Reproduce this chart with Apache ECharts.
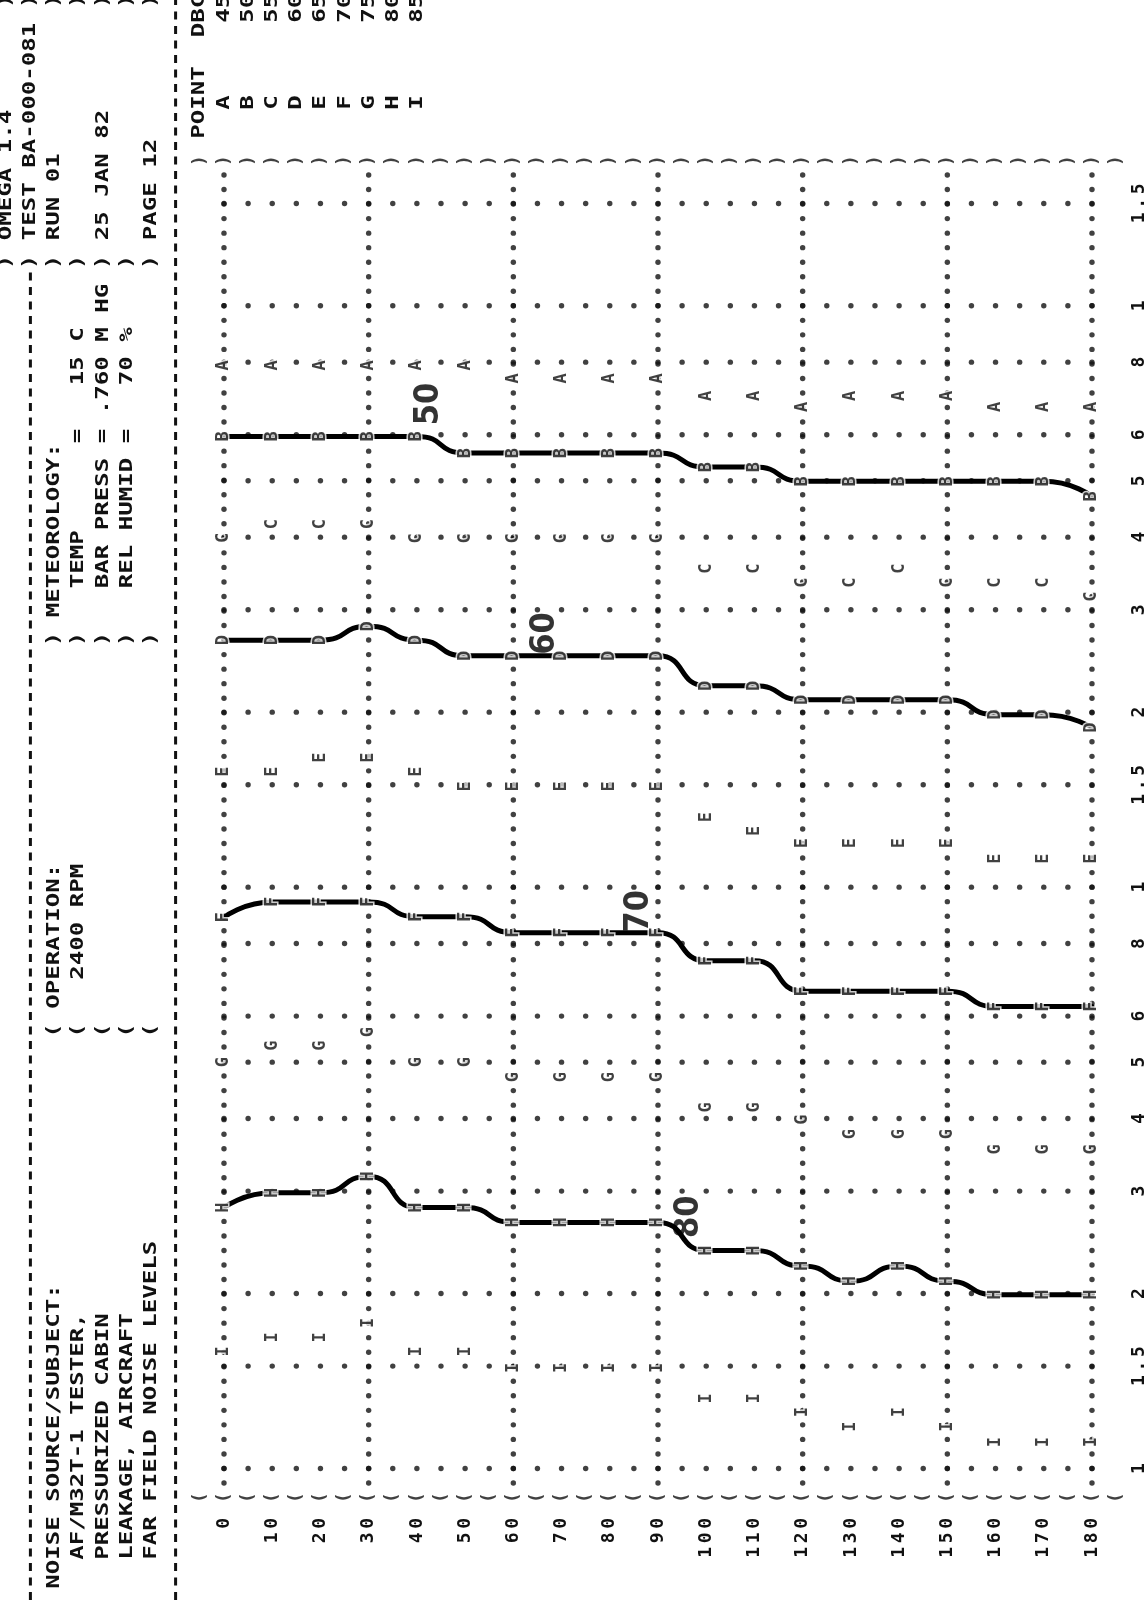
<!DOCTYPE html>
<html><head><meta charset="utf-8">
<script src="https://cdn.jsdelivr.net/npm/echarts@6/dist/echarts.min.js"></script>
<style>html,body{margin:0;padding:0;background:#fff}#c{width:1148px;height:1606px}</style>
</head><body><div id="c"></div>
<script>
// ---------------- data ----------------
const angles = [0,10,20,30,40,50,60,70,80,90,100,110,120,130,140,150,160,170,180];
const angleTickLabels = ['0','10','20','30','40','50','60','70','80','90','100','110','120','130','140','150','160','170','180'];
// distance (log axis) tick values and the printed labels
const distTicks = [1,1.5,2,3,4,5,6,8,10,15,20,30,40,50,60,80,100,150];
const distTickLabels = ['1','1.5','2','3','4','5','6','8','1','1.5','2','3','4','5','6','8','1','1.5'];
const vGridAngles = [0,30,60,90,120,150,180];
// points A..I : distance at which each level is reached, per angle
const pointNames = ['A','B','C','D','E','F','G','H','I'];
const pointDbc   = ['45','50','55','60','65','70','75','80','85'];
const ptA = [79,79,79,79,79,79,75,75,75,75,70,70,67,70,70,70,67,67,67];
const ptB = [59.6,59.6,59.6,59.6,59.6,55.8,55.8,55.8,55.8,55.8,52.8,52.8,49.9,49.9,49.9,49.9,49.9,49.9,47.0];
const ptC = [39.9,42.1,42.1,42.1,39.8,39.8,39.8,39.8,39.8,39.8,35.3,35.3,33.4,33.4,35.3,33.4,33.4,33.4,31.6];
const ptD = [26.6,26.6,26.6,28.1,26.6,25.0,25.0,25.0,25.0,25.0,22.2,22.2,21.0,21.0,21.0,21.0,19.8,19.8,18.8];
const ptE = [15.8,15.8,16.7,16.7,15.8,14.9,14.9,14.9,14.9,14.9,13.2,12.5,11.9,11.9,11.9,11.9,11.2,11.2,11.2];
const ptF = [8.87,9.43,9.43,9.43,8.89,8.89,8.35,8.35,8.35,8.35,7.47,7.47,6.62,6.62,6.62,6.62,6.23,6.23,6.23];
const ptG = [5.0,5.34,5.34,5.63,5.0,5.0,4.71,4.71,4.71,4.71,4.18,4.18,3.98,3.76,3.76,3.76,3.54,3.54,3.54];
const ptH = [2.81,2.98,2.98,3.18,2.81,2.81,2.65,2.65,2.65,2.65,2.37,2.37,2.23,2.10,2.23,2.10,1.99,1.99,1.99];
const ptI = [1.59,1.68,1.68,1.78,1.59,1.59,1.49,1.49,1.49,1.49,1.32,1.32,1.25,1.18,1.25,1.18,1.11,1.11,1.11];
const pointSeries = [ptA,ptB,ptC,ptD,ptE,ptF,ptG,ptH,ptI];
// hand-drawn contours through B, D, F, H and their handwritten labels
const contourIdx   = [1,3,5,7];
const contourText  = ['50','60','70','80'];
const contourAngle = [42.5,66.5,86,96.5];
const contourDist  = [67.8,27.3,9.09,2.71];

// ---------------- layout helpers ----------------
const L = Math.log10;
const ROWSTEP = 0.025;            // one printer character step on the log axis
const YMIN = -0.025, YMAX = 2.225;
const FONT = '"DejaVu Sans Mono", "Liberation Mono", monospace';
const PITCH = 14.5, ADV = 18*0.602;
const rowX = r => 224 - 24.2*(10 - r);
const colY = c => 1552.5 - PITCH*c;

function hdr(row, col, str){
  return {type:'text', x: rowX(row), y: colY(col) + PITCH/2, rotation: Math.PI/2,
    scaleX: PITCH/ADV, silent:true,
    style:{text:str, font:'bold 18px ' + FONT, fill:'#111', align:'left', verticalAlign:'middle',
           textAlign:'left', textVerticalAlign:'middle'}};
}
function dash(row, c1, c2){
  const x = rowX(row);
  return {type:'line', silent:true, shape:{x1:x, y1:colY(c1)+4, x2:x, y2:colY(c2)-4},
    style:{stroke:'#111', lineWidth:3, lineDash:[8,6.5]}};
}
const RB = 89, MB = 63, OB = 36;   // columns of the ")" / "(" separators
const graphics = [
  dash(2,-4,RB-1), dash(8,-4,108),
  hdr(1,RB,') OMEGA 1.4'),
  hdr(2,RB,') TEST BA-000-081'),
  hdr(3,-2,'NOISE SOURCE/SUBJECT:'), hdr(3,OB,'( OPERATION:'), hdr(3,MB,') METEOROLOGY:'), hdr(3,RB,') RUN 01'),
  hdr(4,0,'AF/M32T-1 TESTER,'), hdr(4,OB,'(   2400 RPM'), hdr(4,MB,')   TEMP      =   15 C'), hdr(4,RB,')'),
  hdr(5,0,'PRESSURIZED CABIN'), hdr(5,OB,'('), hdr(5,MB,')   BAR PRESS = .760 M HG'), hdr(5,RB,') 25 JAN 82'),
  hdr(6,0,'LEAKAGE, AIRCRAFT'), hdr(6,OB,'('), hdr(6,MB,')   REL HUMID =   70 %'), hdr(6,RB,')'),
  hdr(7,0,'FAR FIELD NOISE LEVELS'), hdr(7,OB,'('), hdr(7,MB,')'), hdr(7,RB,') PAGE 12'),
  hdr(9,98,'POINT'), hdr(9,105,'DBC')
];
for (let r = 1; r <= 7; r++) graphics.push(hdr(r,107,')'));
pointNames.forEach((n,i)=>{ graphics.push(hdr(10+i,100,n)); graphics.push(hdr(10+i,106,pointDbc[i])); });

// ---------------- series ----------------
const richChars = s => s.split('').map(ch => '{c|' + ch + '}').join('');
const charRich = {c:{width:PITCH, align:'center', fontFamily:FONT, fontWeight:'bold', fontSize:18, color:'#111'}};

const gridH = [];
distTicks.forEach(t => { for (let a = 0; a <= 180; a += 5) gridH.push([a, L(t)]); });
const gridV = [];
vGridAngles.forEach(a => { for (let k = 0; k <= 90; k++) gridV.push([a, YMAX - ROWSTEP*k]); });
const topRow = [], botRow = [];
for (let a = -5; a <= 185; a += 5) { topRow.push([a, YMAX + ROWSTEP]); botRow.push([a, YMIN - ROWSTEP]); }

const series = [
  {type:'scatter', data:gridH, symbolSize:5.4, itemStyle:{color:'#111'}, silent:true, z:1, clip:false},
  {type:'scatter', data:gridV, symbolSize:5.4, itemStyle:{color:'#111'}, silent:true, z:1, clip:false},
  {type:'scatter', data:topRow, symbolSize:0.1, itemStyle:{color:'rgba(0,0,0,0)'}, clip:false, silent:true, z:1,
   label:{show:true, position:'inside', formatter:')', rotate:90, fontFamily:FONT, fontWeight:'bold', fontSize:18, color:'#111'}},
  {type:'scatter', data:botRow, symbolSize:0.1, itemStyle:{color:'rgba(0,0,0,0)'}, clip:false, silent:true, z:1,
   label:{show:true, position:'inside', formatter:'(', rotate:90, fontFamily:FONT, fontWeight:'bold', fontSize:18, color:'#111'}},
  {type:'line', data:[[-5.5, YMIN], [-5.5, YMAX+ROWSTEP/2]], symbol:'none', clip:false, silent:true, z:1,
   lineStyle:{color:'#111', width:3, type:[8,6.5]}},
  {type:'line', data:[[184.5, YMIN], [184.5, YMAX+ROWSTEP/2]], symbol:'none', clip:false, silent:true, z:1,
   lineStyle:{color:'#111', width:3, type:[8,6.5]}}
];
contourIdx.forEach(ci => {
  series.push({type:'line', data: angles.map((a,j)=>[a, L(pointSeries[ci][j])]), smooth:0.6, smoothMonotone:'x',
    symbol:'none', silent:true, z:2, lineStyle:{color:'#000', width:5, cap:'round', join:'round'}});
});
pointNames.forEach((n,i) => {
  series.push({type:'scatter', name:n, data: angles.map((a,j)=>[a, L(pointSeries[i][j])]), symbolSize:0.1,
    itemStyle:{color:'rgba(0,0,0,0)'}, silent:true, z:3, clip:false,
    label:{show:true, position:'inside', formatter:n, rotate:90, fontFamily:FONT, fontWeight:'bold', fontSize:17,
      color:'#111', textBorderColor:'#fff', textBorderWidth:3}});
});
series.push({type:'scatter', data: contourAngle.map((a,i)=>[a, L(contourDist[i]), contourText[i]]), symbolSize:0.1,
  itemStyle:{color:'rgba(0,0,0,0)'}, silent:true, z:4, clip:false,
  label:{show:true, position:'inside', formatter:p=>p.value[2], rotate:90,
    fontFamily:'"Liberation Sans Narrow", "DejaVu Sans Condensed", sans-serif', fontWeight:'bold', fontSize:34, color:'#000'}});

const chart = echarts.init(document.getElementById('c'), null, {renderer:'canvas'});
chart.setOption({
  backgroundColor:'#fff',
  animation:false,
  grid:{left:224, right:53, top:175, bottom:123, containLabel:false},
  xAxis:{type:'value', min:0, max:180, interval:10,
    axisLine:{show:false}, axisTick:{show:false}, splitLine:{show:false},
    axisLabel:{rotate:90, margin:33, formatter:(v)=>{const i=angles.indexOf(v); return i<0?'':richChars(angleTickLabels[i]);}, rich:charRich}},
  yAxis:{type:'value', min:YMIN, max:YMAX, position:'right',
    axisLine:{show:false}, axisTick:{show:false}, splitLine:{show:false},
    axisLabel:{rotate:90, margin:38, customValues: distTicks.map(L),
      formatter:(v)=>{let bi=0,bd=1e9; distTicks.forEach((t,i)=>{const d=Math.abs(L(t)-v); if(d<bd){bd=d;bi=i;}}); return bd<1e-6?richChars(distTickLabels[bi]):'';},
      rich:charRich}},
  graphic: graphics,
  series: series
});
</script></body></html>
